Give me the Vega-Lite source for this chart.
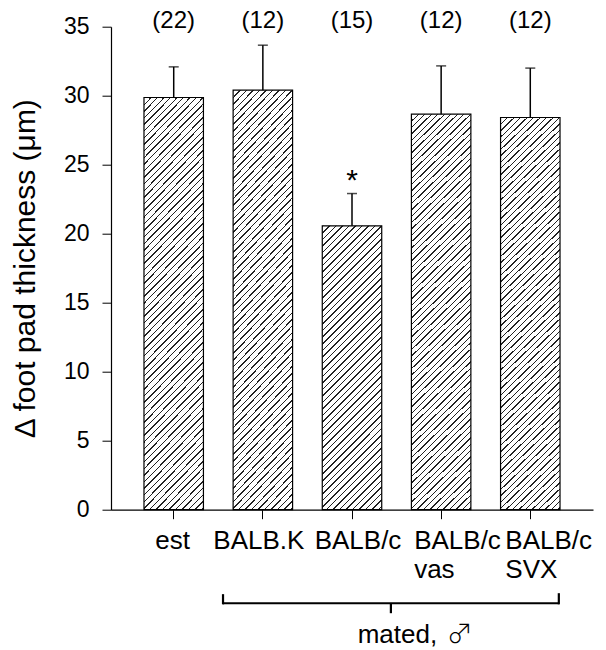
{
"$schema": "https://vega.github.io/schema/vega-lite/v6.json",
"width": 482,
"height": 483,
"autosize": {"type": "none"},
"padding": {"left": 111, "top": 26.7, "right": 13, "bottom": 140.3},
"config": {
  "view": {"stroke": null},
  "font": "Liberation Sans",
  "axis": {"grid": false, "domainColor": "#000", "tickColor": "#000", "labelColor": "#000", "titleColor": "#000", "labelFont": "Liberation Sans", "titleFont": "Liberation Sans", "titleFontWeight": "normal"}
},
"datasets": {
  "bars": [
    {"g": "est", "mean": 29.87, "upper": 32.09, "n": "(22)", "sig": ""},
    {"g": "BALB.K", "mean": 30.4, "upper": 33.66, "n": "(12)", "sig": ""},
    {"g": "BALB/c", "mean": 20.57, "upper": 22.91, "n": "(15)", "sig": "*"},
    {"g": "BALB/c vas", "mean": 28.66, "upper": 32.16, "n": "(12)", "sig": ""},
    {"g": "BALB/c SVX", "mean": 28.42, "upper": 32.0, "n": "(12)", "sig": ""}
  ],
  "bracket": [
    {"left": "BALB.K", "right": "BALB/c SVX", "mid": "BALB/c", "lab": "BALB/c vas", "text": "mated,", "sym": "♂"}
  ]
},
"layer": [
  {
    "data": {"name": "bars"},
    "mark": {"type": "bar", "stroke": "#000", "strokeWidth": 1.2},
    "encoding": {
      "x": {"field": "g", "type": "nominal", "sort": null,
        "scale": {"domain": ["est", "BALB.K", "BALB/c", "BALB/c vas", "BALB/c SVX"], "paddingInner": 0.333, "paddingOuter": 0.37},
        "axis": {"title": null, "labelAngle": 0, "labelFontSize": 26, "labelPadding": 9, "tickSize": 9, "labelLineHeight": 29, "labelExpr": "split(datum.label, ' ')", "domainWidth": 1.2, "tickWidth": 1, "labelOverlap": false, "labelBaseline": "top",
          "labelAlign": {"condition": [{"test": "datum.value === 'BALB/c vas'", "value": "left"}, {"test": "datum.value === 'BALB/c SVX'", "value": "left"}], "value": "center"},
          "labelOffset": {"condition": [{"test": "datum.value === 'est'", "value": -1}, {"test": "datum.value === 'BALB.K'", "value": -4}, {"test": "datum.value === 'BALB/c'", "value": 6}, {"test": "datum.value === 'BALB/c vas'", "value": -27}, {"test": "datum.value === 'BALB/c SVX'", "value": -25}], "value": 0}}},
      "y": {"field": "mean", "type": "quantitative",
        "scale": {"domain": [0, 35], "nice": false},
        "axis": {"title": "Δ foot pad thickness (μm)", "values": [0, 5, 10, 15, 20, 25, 30, 35], "labelFontSize": 23, "labelPadding": 13, "tickSize": 9, "titleFontSize": 30, "titlePadding": 23, "domainWidth": 1.2}},
      "fill": {
        "condition": {"test": "datum.g === 'BALB/c'", "value": {"gradient": "linear", "x1": 0, "y1": 0, "x2": 0.2428, "y2": 1.1586, "stops": [
{"offset":0,"color":"#222"},{"offset":0.0044,"color":"#222"},{"offset":0.0044,"color":"#fff"},
{"offset":0.019,"color":"#fff"},{"offset":0.019,"color":"#222"},{"offset":0.0234,"color":"#222"},{"offset":0.0234,"color":"#fff"},
{"offset":0.038,"color":"#fff"},{"offset":0.038,"color":"#222"},{"offset":0.0424,"color":"#222"},{"offset":0.0424,"color":"#fff"},
{"offset":0.057,"color":"#fff"},{"offset":0.057,"color":"#222"},{"offset":0.0614,"color":"#222"},{"offset":0.0614,"color":"#fff"},
{"offset":0.076,"color":"#fff"},{"offset":0.076,"color":"#222"},{"offset":0.0804,"color":"#222"},{"offset":0.0804,"color":"#fff"},
{"offset":0.095,"color":"#fff"},{"offset":0.095,"color":"#222"},{"offset":0.0994,"color":"#222"},{"offset":0.0994,"color":"#fff"},
{"offset":0.114,"color":"#fff"},{"offset":0.114,"color":"#222"},{"offset":0.1184,"color":"#222"},{"offset":0.1184,"color":"#fff"},
{"offset":0.133,"color":"#fff"},{"offset":0.133,"color":"#222"},{"offset":0.1374,"color":"#222"},{"offset":0.1374,"color":"#fff"},
{"offset":0.152,"color":"#fff"},{"offset":0.152,"color":"#222"},{"offset":0.1564,"color":"#222"},{"offset":0.1564,"color":"#fff"},
{"offset":0.171,"color":"#fff"},{"offset":0.171,"color":"#222"},{"offset":0.1754,"color":"#222"},{"offset":0.1754,"color":"#fff"},
{"offset":0.19,"color":"#fff"},{"offset":0.19,"color":"#222"},{"offset":0.1944,"color":"#222"},{"offset":0.1944,"color":"#fff"},
{"offset":0.209,"color":"#fff"},{"offset":0.209,"color":"#222"},{"offset":0.2134,"color":"#222"},{"offset":0.2134,"color":"#fff"},
{"offset":0.228,"color":"#fff"},{"offset":0.228,"color":"#222"},{"offset":0.2324,"color":"#222"},{"offset":0.2324,"color":"#fff"},
{"offset":0.247,"color":"#fff"},{"offset":0.247,"color":"#222"},{"offset":0.2514,"color":"#222"},{"offset":0.2514,"color":"#fff"},
{"offset":0.266,"color":"#fff"},{"offset":0.266,"color":"#222"},{"offset":0.2704,"color":"#222"},{"offset":0.2704,"color":"#fff"},
{"offset":0.285,"color":"#fff"},{"offset":0.285,"color":"#222"},{"offset":0.2894,"color":"#222"},{"offset":0.2894,"color":"#fff"},
{"offset":0.304,"color":"#fff"},{"offset":0.304,"color":"#222"},{"offset":0.3084,"color":"#222"},{"offset":0.3084,"color":"#fff"},
{"offset":0.323,"color":"#fff"},{"offset":0.323,"color":"#222"},{"offset":0.3274,"color":"#222"},{"offset":0.3274,"color":"#fff"},
{"offset":0.342,"color":"#fff"},{"offset":0.342,"color":"#222"},{"offset":0.3464,"color":"#222"},{"offset":0.3464,"color":"#fff"},
{"offset":0.361,"color":"#fff"},{"offset":0.361,"color":"#222"},{"offset":0.3654,"color":"#222"},{"offset":0.3654,"color":"#fff"},
{"offset":0.38,"color":"#fff"},{"offset":0.38,"color":"#222"},{"offset":0.3844,"color":"#222"},{"offset":0.3844,"color":"#fff"},
{"offset":0.399,"color":"#fff"},{"offset":0.399,"color":"#222"},{"offset":0.4034,"color":"#222"},{"offset":0.4034,"color":"#fff"},
{"offset":0.418,"color":"#fff"},{"offset":0.418,"color":"#222"},{"offset":0.4224,"color":"#222"},{"offset":0.4224,"color":"#fff"},
{"offset":0.437,"color":"#fff"},{"offset":0.437,"color":"#222"},{"offset":0.4414,"color":"#222"},{"offset":0.4414,"color":"#fff"},
{"offset":0.456,"color":"#fff"},{"offset":0.456,"color":"#222"},{"offset":0.4604,"color":"#222"},{"offset":0.4604,"color":"#fff"},
{"offset":0.475,"color":"#fff"},{"offset":0.475,"color":"#222"},{"offset":0.4794,"color":"#222"},{"offset":0.4794,"color":"#fff"},
{"offset":0.494,"color":"#fff"},{"offset":0.494,"color":"#222"},{"offset":0.4984,"color":"#222"},{"offset":0.4984,"color":"#fff"},
{"offset":0.513,"color":"#fff"},{"offset":0.513,"color":"#222"},{"offset":0.5174,"color":"#222"},{"offset":0.5174,"color":"#fff"},
{"offset":0.532,"color":"#fff"},{"offset":0.532,"color":"#222"},{"offset":0.5364,"color":"#222"},{"offset":0.5364,"color":"#fff"},
{"offset":0.551,"color":"#fff"},{"offset":0.551,"color":"#222"},{"offset":0.5554,"color":"#222"},{"offset":0.5554,"color":"#fff"},
{"offset":0.57,"color":"#fff"},{"offset":0.57,"color":"#222"},{"offset":0.5744,"color":"#222"},{"offset":0.5744,"color":"#fff"},
{"offset":0.589,"color":"#fff"},{"offset":0.589,"color":"#222"},{"offset":0.5934,"color":"#222"},{"offset":0.5934,"color":"#fff"},
{"offset":0.608,"color":"#fff"},{"offset":0.608,"color":"#222"},{"offset":0.6124,"color":"#222"},{"offset":0.6124,"color":"#fff"},
{"offset":0.627,"color":"#fff"},{"offset":0.627,"color":"#222"},{"offset":0.6314,"color":"#222"},{"offset":0.6314,"color":"#fff"},
{"offset":0.646,"color":"#fff"},{"offset":0.646,"color":"#222"},{"offset":0.6504,"color":"#222"},{"offset":0.6504,"color":"#fff"},
{"offset":0.665,"color":"#fff"},{"offset":0.665,"color":"#222"},{"offset":0.6694,"color":"#222"},{"offset":0.6694,"color":"#fff"},
{"offset":0.684,"color":"#fff"},{"offset":0.684,"color":"#222"},{"offset":0.6884,"color":"#222"},{"offset":0.6884,"color":"#fff"},
{"offset":0.703,"color":"#fff"},{"offset":0.703,"color":"#222"},{"offset":0.7074,"color":"#222"},{"offset":0.7074,"color":"#fff"},
{"offset":0.722,"color":"#fff"},{"offset":0.722,"color":"#222"},{"offset":0.7264,"color":"#222"},{"offset":0.7264,"color":"#fff"},
{"offset":0.741,"color":"#fff"},{"offset":0.741,"color":"#222"},{"offset":0.7454,"color":"#222"},{"offset":0.7454,"color":"#fff"},
{"offset":0.76,"color":"#fff"},{"offset":0.76,"color":"#222"},{"offset":0.7644,"color":"#222"},{"offset":0.7644,"color":"#fff"},
{"offset":0.779,"color":"#fff"},{"offset":0.779,"color":"#222"},{"offset":0.7834,"color":"#222"},{"offset":0.7834,"color":"#fff"},
{"offset":0.798,"color":"#fff"},{"offset":0.798,"color":"#222"},{"offset":0.8024,"color":"#222"},{"offset":0.8024,"color":"#fff"},
{"offset":0.817,"color":"#fff"},{"offset":0.817,"color":"#222"},{"offset":0.8214,"color":"#222"},{"offset":0.8214,"color":"#fff"},
{"offset":0.836,"color":"#fff"},{"offset":0.836,"color":"#222"},{"offset":0.8404,"color":"#222"},{"offset":0.8404,"color":"#fff"},
{"offset":0.855,"color":"#fff"},{"offset":0.855,"color":"#222"},{"offset":0.8594,"color":"#222"},{"offset":0.8594,"color":"#fff"},
{"offset":0.874,"color":"#fff"},{"offset":0.874,"color":"#222"},{"offset":0.8784,"color":"#222"},{"offset":0.8784,"color":"#fff"},
{"offset":0.893,"color":"#fff"},{"offset":0.893,"color":"#222"},{"offset":0.8974,"color":"#222"},{"offset":0.8974,"color":"#fff"},
{"offset":0.912,"color":"#fff"},{"offset":0.912,"color":"#222"},{"offset":0.9164,"color":"#222"},{"offset":0.9164,"color":"#fff"},
{"offset":0.931,"color":"#fff"},{"offset":0.931,"color":"#222"},{"offset":0.9354,"color":"#222"},{"offset":0.9354,"color":"#fff"},
{"offset":0.95,"color":"#fff"},{"offset":0.95,"color":"#222"},{"offset":0.9544,"color":"#222"},{"offset":0.9544,"color":"#fff"},
{"offset":0.969,"color":"#fff"},{"offset":0.969,"color":"#222"},{"offset":0.9734,"color":"#222"},{"offset":0.9734,"color":"#fff"},
{"offset":0.988,"color":"#fff"},{"offset":0.988,"color":"#222"},{"offset":0.9924,"color":"#222"},{"offset":0.9924,"color":"#fff"}
        ]}},
        "value": {"gradient": "linear", "x1": 0, "y1": 0, "x2": 0.1649, "y2": 1.1225, "stops": [
{"offset":0,"color":"#222"},{"offset":0.003,"color":"#222"},{"offset":0.003,"color":"#fff"},
{"offset":0.014,"color":"#fff"},{"offset":0.014,"color":"#222"},{"offset":0.017,"color":"#222"},{"offset":0.017,"color":"#fff"},
{"offset":0.028,"color":"#fff"},{"offset":0.028,"color":"#222"},{"offset":0.031,"color":"#222"},{"offset":0.031,"color":"#fff"},
{"offset":0.042,"color":"#fff"},{"offset":0.042,"color":"#222"},{"offset":0.045,"color":"#222"},{"offset":0.045,"color":"#fff"},
{"offset":0.056,"color":"#fff"},{"offset":0.056,"color":"#222"},{"offset":0.059,"color":"#222"},{"offset":0.059,"color":"#fff"},
{"offset":0.07,"color":"#fff"},{"offset":0.07,"color":"#222"},{"offset":0.073,"color":"#222"},{"offset":0.073,"color":"#fff"},
{"offset":0.084,"color":"#fff"},{"offset":0.084,"color":"#222"},{"offset":0.087,"color":"#222"},{"offset":0.087,"color":"#fff"},
{"offset":0.098,"color":"#fff"},{"offset":0.098,"color":"#222"},{"offset":0.101,"color":"#222"},{"offset":0.101,"color":"#fff"},
{"offset":0.112,"color":"#fff"},{"offset":0.112,"color":"#222"},{"offset":0.115,"color":"#222"},{"offset":0.115,"color":"#fff"},
{"offset":0.126,"color":"#fff"},{"offset":0.126,"color":"#222"},{"offset":0.129,"color":"#222"},{"offset":0.129,"color":"#fff"},
{"offset":0.14,"color":"#fff"},{"offset":0.14,"color":"#222"},{"offset":0.143,"color":"#222"},{"offset":0.143,"color":"#fff"},
{"offset":0.154,"color":"#fff"},{"offset":0.154,"color":"#222"},{"offset":0.157,"color":"#222"},{"offset":0.157,"color":"#fff"},
{"offset":0.168,"color":"#fff"},{"offset":0.168,"color":"#222"},{"offset":0.171,"color":"#222"},{"offset":0.171,"color":"#fff"},
{"offset":0.182,"color":"#fff"},{"offset":0.182,"color":"#222"},{"offset":0.185,"color":"#222"},{"offset":0.185,"color":"#fff"},
{"offset":0.196,"color":"#fff"},{"offset":0.196,"color":"#222"},{"offset":0.199,"color":"#222"},{"offset":0.199,"color":"#fff"},
{"offset":0.21,"color":"#fff"},{"offset":0.21,"color":"#222"},{"offset":0.213,"color":"#222"},{"offset":0.213,"color":"#fff"},
{"offset":0.224,"color":"#fff"},{"offset":0.224,"color":"#222"},{"offset":0.227,"color":"#222"},{"offset":0.227,"color":"#fff"},
{"offset":0.238,"color":"#fff"},{"offset":0.238,"color":"#222"},{"offset":0.241,"color":"#222"},{"offset":0.241,"color":"#fff"},
{"offset":0.252,"color":"#fff"},{"offset":0.252,"color":"#222"},{"offset":0.255,"color":"#222"},{"offset":0.255,"color":"#fff"},
{"offset":0.266,"color":"#fff"},{"offset":0.266,"color":"#222"},{"offset":0.269,"color":"#222"},{"offset":0.269,"color":"#fff"},
{"offset":0.28,"color":"#fff"},{"offset":0.28,"color":"#222"},{"offset":0.283,"color":"#222"},{"offset":0.283,"color":"#fff"},
{"offset":0.294,"color":"#fff"},{"offset":0.294,"color":"#222"},{"offset":0.297,"color":"#222"},{"offset":0.297,"color":"#fff"},
{"offset":0.308,"color":"#fff"},{"offset":0.308,"color":"#222"},{"offset":0.311,"color":"#222"},{"offset":0.311,"color":"#fff"},
{"offset":0.322,"color":"#fff"},{"offset":0.322,"color":"#222"},{"offset":0.325,"color":"#222"},{"offset":0.325,"color":"#fff"},
{"offset":0.336,"color":"#fff"},{"offset":0.336,"color":"#222"},{"offset":0.339,"color":"#222"},{"offset":0.339,"color":"#fff"},
{"offset":0.35,"color":"#fff"},{"offset":0.35,"color":"#222"},{"offset":0.353,"color":"#222"},{"offset":0.353,"color":"#fff"},
{"offset":0.364,"color":"#fff"},{"offset":0.364,"color":"#222"},{"offset":0.367,"color":"#222"},{"offset":0.367,"color":"#fff"},
{"offset":0.378,"color":"#fff"},{"offset":0.378,"color":"#222"},{"offset":0.381,"color":"#222"},{"offset":0.381,"color":"#fff"},
{"offset":0.392,"color":"#fff"},{"offset":0.392,"color":"#222"},{"offset":0.395,"color":"#222"},{"offset":0.395,"color":"#fff"},
{"offset":0.406,"color":"#fff"},{"offset":0.406,"color":"#222"},{"offset":0.409,"color":"#222"},{"offset":0.409,"color":"#fff"},
{"offset":0.42,"color":"#fff"},{"offset":0.42,"color":"#222"},{"offset":0.423,"color":"#222"},{"offset":0.423,"color":"#fff"},
{"offset":0.434,"color":"#fff"},{"offset":0.434,"color":"#222"},{"offset":0.437,"color":"#222"},{"offset":0.437,"color":"#fff"},
{"offset":0.448,"color":"#fff"},{"offset":0.448,"color":"#222"},{"offset":0.451,"color":"#222"},{"offset":0.451,"color":"#fff"},
{"offset":0.462,"color":"#fff"},{"offset":0.462,"color":"#222"},{"offset":0.465,"color":"#222"},{"offset":0.465,"color":"#fff"},
{"offset":0.476,"color":"#fff"},{"offset":0.476,"color":"#222"},{"offset":0.479,"color":"#222"},{"offset":0.479,"color":"#fff"},
{"offset":0.49,"color":"#fff"},{"offset":0.49,"color":"#222"},{"offset":0.493,"color":"#222"},{"offset":0.493,"color":"#fff"},
{"offset":0.504,"color":"#fff"},{"offset":0.504,"color":"#222"},{"offset":0.507,"color":"#222"},{"offset":0.507,"color":"#fff"},
{"offset":0.518,"color":"#fff"},{"offset":0.518,"color":"#222"},{"offset":0.521,"color":"#222"},{"offset":0.521,"color":"#fff"},
{"offset":0.532,"color":"#fff"},{"offset":0.532,"color":"#222"},{"offset":0.535,"color":"#222"},{"offset":0.535,"color":"#fff"},
{"offset":0.546,"color":"#fff"},{"offset":0.546,"color":"#222"},{"offset":0.549,"color":"#222"},{"offset":0.549,"color":"#fff"},
{"offset":0.56,"color":"#fff"},{"offset":0.56,"color":"#222"},{"offset":0.563,"color":"#222"},{"offset":0.563,"color":"#fff"},
{"offset":0.574,"color":"#fff"},{"offset":0.574,"color":"#222"},{"offset":0.577,"color":"#222"},{"offset":0.577,"color":"#fff"},
{"offset":0.588,"color":"#fff"},{"offset":0.588,"color":"#222"},{"offset":0.591,"color":"#222"},{"offset":0.591,"color":"#fff"},
{"offset":0.602,"color":"#fff"},{"offset":0.602,"color":"#222"},{"offset":0.605,"color":"#222"},{"offset":0.605,"color":"#fff"},
{"offset":0.616,"color":"#fff"},{"offset":0.616,"color":"#222"},{"offset":0.619,"color":"#222"},{"offset":0.619,"color":"#fff"},
{"offset":0.63,"color":"#fff"},{"offset":0.63,"color":"#222"},{"offset":0.633,"color":"#222"},{"offset":0.633,"color":"#fff"},
{"offset":0.644,"color":"#fff"},{"offset":0.644,"color":"#222"},{"offset":0.647,"color":"#222"},{"offset":0.647,"color":"#fff"},
{"offset":0.658,"color":"#fff"},{"offset":0.658,"color":"#222"},{"offset":0.661,"color":"#222"},{"offset":0.661,"color":"#fff"},
{"offset":0.672,"color":"#fff"},{"offset":0.672,"color":"#222"},{"offset":0.675,"color":"#222"},{"offset":0.675,"color":"#fff"},
{"offset":0.686,"color":"#fff"},{"offset":0.686,"color":"#222"},{"offset":0.689,"color":"#222"},{"offset":0.689,"color":"#fff"},
{"offset":0.7,"color":"#fff"},{"offset":0.7,"color":"#222"},{"offset":0.703,"color":"#222"},{"offset":0.703,"color":"#fff"},
{"offset":0.714,"color":"#fff"},{"offset":0.714,"color":"#222"},{"offset":0.717,"color":"#222"},{"offset":0.717,"color":"#fff"},
{"offset":0.728,"color":"#fff"},{"offset":0.728,"color":"#222"},{"offset":0.731,"color":"#222"},{"offset":0.731,"color":"#fff"},
{"offset":0.742,"color":"#fff"},{"offset":0.742,"color":"#222"},{"offset":0.745,"color":"#222"},{"offset":0.745,"color":"#fff"},
{"offset":0.756,"color":"#fff"},{"offset":0.756,"color":"#222"},{"offset":0.759,"color":"#222"},{"offset":0.759,"color":"#fff"},
{"offset":0.77,"color":"#fff"},{"offset":0.77,"color":"#222"},{"offset":0.773,"color":"#222"},{"offset":0.773,"color":"#fff"},
{"offset":0.784,"color":"#fff"},{"offset":0.784,"color":"#222"},{"offset":0.787,"color":"#222"},{"offset":0.787,"color":"#fff"},
{"offset":0.798,"color":"#fff"},{"offset":0.798,"color":"#222"},{"offset":0.801,"color":"#222"},{"offset":0.801,"color":"#fff"},
{"offset":0.812,"color":"#fff"},{"offset":0.812,"color":"#222"},{"offset":0.815,"color":"#222"},{"offset":0.815,"color":"#fff"},
{"offset":0.826,"color":"#fff"},{"offset":0.826,"color":"#222"},{"offset":0.829,"color":"#222"},{"offset":0.829,"color":"#fff"},
{"offset":0.84,"color":"#fff"},{"offset":0.84,"color":"#222"},{"offset":0.843,"color":"#222"},{"offset":0.843,"color":"#fff"},
{"offset":0.854,"color":"#fff"},{"offset":0.854,"color":"#222"},{"offset":0.857,"color":"#222"},{"offset":0.857,"color":"#fff"},
{"offset":0.868,"color":"#fff"},{"offset":0.868,"color":"#222"},{"offset":0.871,"color":"#222"},{"offset":0.871,"color":"#fff"},
{"offset":0.882,"color":"#fff"},{"offset":0.882,"color":"#222"},{"offset":0.885,"color":"#222"},{"offset":0.885,"color":"#fff"},
{"offset":0.896,"color":"#fff"},{"offset":0.896,"color":"#222"},{"offset":0.899,"color":"#222"},{"offset":0.899,"color":"#fff"},
{"offset":0.91,"color":"#fff"},{"offset":0.91,"color":"#222"},{"offset":0.913,"color":"#222"},{"offset":0.913,"color":"#fff"},
{"offset":0.924,"color":"#fff"},{"offset":0.924,"color":"#222"},{"offset":0.927,"color":"#222"},{"offset":0.927,"color":"#fff"},
{"offset":0.938,"color":"#fff"},{"offset":0.938,"color":"#222"},{"offset":0.941,"color":"#222"},{"offset":0.941,"color":"#fff"},
{"offset":0.952,"color":"#fff"},{"offset":0.952,"color":"#222"},{"offset":0.955,"color":"#222"},{"offset":0.955,"color":"#fff"},
{"offset":0.966,"color":"#fff"},{"offset":0.966,"color":"#222"},{"offset":0.969,"color":"#222"},{"offset":0.969,"color":"#fff"},
{"offset":0.98,"color":"#fff"},{"offset":0.98,"color":"#222"},{"offset":0.983,"color":"#222"},{"offset":0.983,"color":"#fff"},
{"offset":0.994,"color":"#fff"},{"offset":0.994,"color":"#222"},{"offset":0.997,"color":"#222"},{"offset":0.997,"color":"#fff"}
        ]}
      }
    }
  },
  {
    "data": {"name": "bars"},
    "mark": {"type": "rule", "color": "#000", "strokeWidth": 1.5},
    "encoding": {
      "x": {"field": "g", "type": "nominal"},
      "y": {"field": "mean", "type": "quantitative"},
      "y2": {"field": "upper"}
    }
  },
  {
    "data": {"name": "bars"},
    "mark": {"type": "tick", "orient": "horizontal", "size": 10, "thickness": 1.5, "color": "#000"},
    "encoding": {
      "x": {"field": "g", "type": "nominal"},
      "y": {"field": "upper", "type": "quantitative"}
    }
  },
  {
    "data": {"name": "bars"},
    "mark": {"type": "text", "fontSize": 24, "baseline": "middle", "color": "#000"},
    "encoding": {
      "x": {"field": "g", "type": "nominal"},
      "y": {"datum": 35.43},
      "text": {"field": "n"}
    }
  },
  {
    "data": {"name": "bars"},
    "mark": {"type": "text", "fontSize": 30, "baseline": "alphabetic", "color": "#000"},
    "encoding": {
      "x": {"field": "g", "type": "nominal"},
      "y": {"datum": 23.2},
      "text": {"field": "sig"}
    }
  },
  {
    "data": {"name": "bracket"},
    "mark": {"type": "rule", "color": "#000", "strokeWidth": 2.2},
    "encoding": {
      "x": {"field": "left", "type": "nominal", "bandPosition": -0.17},
      "x2": {"field": "right", "bandPosition": 0.98},
      "y": {"datum": -6.78}
    }
  },
  {
    "data": {"name": "bracket"},
    "mark": {"type": "rule", "color": "#000", "strokeWidth": 2.2},
    "encoding": {
      "x": {"field": "left", "type": "nominal", "bandPosition": -0.17},
      "y": {"datum": -6.12},
      "y2": {"datum": -6.86}
    }
  },
  {
    "data": {"name": "bracket"},
    "mark": {"type": "rule", "color": "#000", "strokeWidth": 2.2},
    "encoding": {
      "x": {"field": "right", "type": "nominal", "bandPosition": 0.98},
      "y": {"datum": -6.05},
      "y2": {"datum": -6.86}
    }
  },
  {
    "data": {"name": "bracket"},
    "mark": {"type": "rule", "color": "#000", "strokeWidth": 2.2},
    "encoding": {
      "x": {"field": "mid", "type": "nominal", "bandPosition": 1.154},
      "y": {"datum": -6.78},
      "y2": {"datum": -7.5}
    }
  },
  {
    "data": {"name": "bracket"},
    "mark": {"type": "text", "fontSize": 26, "baseline": "alphabetic", "color": "#000"},
    "encoding": {
      "x": {"field": "lab", "type": "nominal", "bandPosition": -0.236},
      "y": {"datum": -9.65},
      "text": {"field": "text"}
    }
  },
  {
    "data": {"name": "bracket"},
    "mark": {"type": "text", "fontSize": 26, "baseline": "alphabetic", "color": "#000", "font": "Noto Sans CJK JP", "fontWeight": 300},
    "encoding": {
      "x": {"field": "lab", "type": "nominal", "bandPosition": 0.815},
      "y": {"datum": -9.65},
      "text": {"field": "sym"}
    }
  }
]
}
